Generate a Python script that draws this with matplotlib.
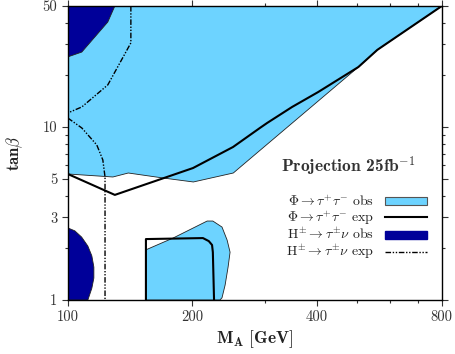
import matplotlib
matplotlib.use("Agg")
import matplotlib.pyplot as plt
from matplotlib.patches import Polygon, Patch
from matplotlib.lines import Line2D
from matplotlib.ticker import FixedLocator, FixedFormatter, NullFormatter

plt.rcParams['font.family'] = 'serif'
plt.rcParams['font.serif'] = ['cmr10', 'DejaVu Serif']
plt.rcParams['mathtext.fontset'] = 'cm'
plt.rcParams['axes.unicode_minus'] = False

LIGHT = '#6DD3FF'
DARK = '#000099'

# Phi -> tau tau observed, big region (M_A, tan beta)
phi_obs_x = [100, 800, 559, 503, 261, 251, 201, 170, 140, 128.5, 100]
phi_obs_y = [50, 50, 27.9, 22.2, 5.87, 5.42, 4.81, 5.07, 5.42, 5.14, 5.35]
# Phi -> tau tau observed, low island
phi_isl_x = [154.4, 154.4, 179.5, 217, 224, 235.7, 242.5, 246.5, 243.8, 239.8, 235.7, 233]
phi_isl_y = [1, 1.95, 2.28, 2.86, 2.86, 2.64, 2.22, 1.89, 1.55, 1.22, 1.03, 1]

# Phi -> tau tau expected
phi_exp1_x = [100, 129.9, 200.6, 250.6, 291, 303, 348, 402, 503, 559, 800]
phi_exp1_y = [5.35, 4.05, 5.79, 7.66, 9.87, 10.55, 13.05, 15.9, 22.2, 27.9, 50]
phi_exp2_x = [154.4, 154.4, 212, 219, 223, 224, 225.5]
phi_exp2_y = [1, 2.25, 2.28, 2.19, 2.08, 1.89, 1]

# H+- -> tau nu observed
hpm_top_x = [100, 100, 108.1, 124.9, 129.9]
hpm_top_y = [50, 25.4, 27.1, 40.4, 50]
hpm_bot_x = [100, 104, 108, 111.8, 114.3, 115.6, 115.6, 114.3, 111.8, 100]
hpm_bot_y = [2.61, 2.51, 2.31, 2.05, 1.80, 1.55, 1.34, 1.17, 1.0, 1.0]

# H+- -> tau nu expected
hpm_exp1_x = [142, 142, 124.9, 108.1, 100]
hpm_exp1_y = [50, 30.6, 17.5, 13.05, 12.05]
hpm_exp2_x = [100, 108.1, 117.5, 121.5, 123, 123]
hpm_exp2_y = [11.27, 9.87, 7.87, 6.45, 5.14, 1]

x_ticks = [100, 200, 400, 800]
x_minor = [300, 500, 600, 700]
y_ticks = [1, 3, 5, 10, 50]
y_minor = [2, 4, 6, 7, 8, 9, 20, 30, 40]

DASHDOT = [4, 1.2, 1, 1.2, 1, 1.2]

fig = plt.figure(figsize=(4.55, 3.54), dpi=100)
ax = fig.add_axes([0.149, 0.1525, 0.822, 0.8305])
ax.set_xscale('log')
ax.set_yscale('log')
ax.set_xlim(100, 800)
ax.set_ylim(1, 50)


def poly(xs, ys, color):
    p = Polygon(list(zip(xs, ys)), closed=True, facecolor=color,
                edgecolor='#222222', linewidth=0.6, zorder=1)
    ax.add_patch(p)


poly(phi_obs_x, phi_obs_y, LIGHT)
poly(phi_isl_x, phi_isl_y, LIGHT)
poly(hpm_top_x, hpm_top_y, DARK)
poly(hpm_bot_x, hpm_bot_y, DARK)

ax.plot(phi_exp1_x, phi_exp1_y, color='black', lw=1.5, zorder=3)
ax.plot(phi_exp2_x, phi_exp2_y, color='black', lw=1.5, zorder=3)
ax.plot(hpm_exp1_x, hpm_exp1_y, color='black', lw=1.0, dashes=DASHDOT, zorder=3)
ax.plot(hpm_exp2_x, hpm_exp2_y, color='black', lw=1.0, dashes=DASHDOT, zorder=3)

ax.xaxis.set_major_locator(FixedLocator(x_ticks))
ax.xaxis.set_major_formatter(FixedFormatter([str(v) for v in x_ticks]))
ax.xaxis.set_minor_locator(FixedLocator(x_minor))
ax.xaxis.set_minor_formatter(NullFormatter())
ax.yaxis.set_major_locator(FixedLocator(y_ticks))
ax.yaxis.set_major_formatter(FixedFormatter([str(v) for v in y_ticks]))
ax.yaxis.set_minor_locator(FixedLocator(y_minor))
ax.yaxis.set_minor_formatter(NullFormatter())
ax.tick_params(which='both', direction='out', top=True, right=True,
               labelsize=10.5, width=0.8, colors='#333333', labelcolor='#333333')
ax.tick_params(which='major', length=4)
ax.tick_params(which='minor', length=2.5)
for s in ax.spines.values():
    s.set_linewidth(1.0)

ax.set_xlabel(r'$\mathbf{M_A}\ \mathbf{[GeV]}$', fontsize=12.5, labelpad=3,
              color='#222222')
ax.set_ylabel(r'$\mathbf{tan}\beta$', fontsize=12, labelpad=13, color='#222222')

ax.text(0.93, 0.455, r'Projection 25fb$^{-1}$', transform=ax.transAxes,
        ha='right', va='center', fontsize=12.5, family='cmb10', color='#333333')

handles = [
    Patch(facecolor=LIGHT, edgecolor='#555555', linewidth=0.8),
    Line2D([], [], color='black', lw=1.5),
    Patch(facecolor=DARK, edgecolor=DARK),
    Line2D([], [], color='black', lw=1.0, dashes=DASHDOT),
]
labels = [
    r'$\Phi\rightarrow\tau^{+}\tau^{-}$ obs',
    r'$\Phi\rightarrow\tau^{+}\tau^{-}$ exp',
    r'$\mathrm{H}^{\pm}\rightarrow\tau^{\pm}\nu$ obs',
    r'$\mathrm{H}^{\pm}\rightarrow\tau^{\pm}\nu$ exp',
]
leg = ax.legend(handles, labels, loc='center right', bbox_to_anchor=(0.96, 0.245),
                frameon=False, markerfirst=False, fontsize=10,
                handlelength=3.0, handleheight=0.55, labelspacing=0.0,
                handletextpad=0.8, borderaxespad=0.0, borderpad=0.0)
for t in leg.get_texts():
    t.set_color('#222222')

fig.savefig('out.png', dpi=100)
